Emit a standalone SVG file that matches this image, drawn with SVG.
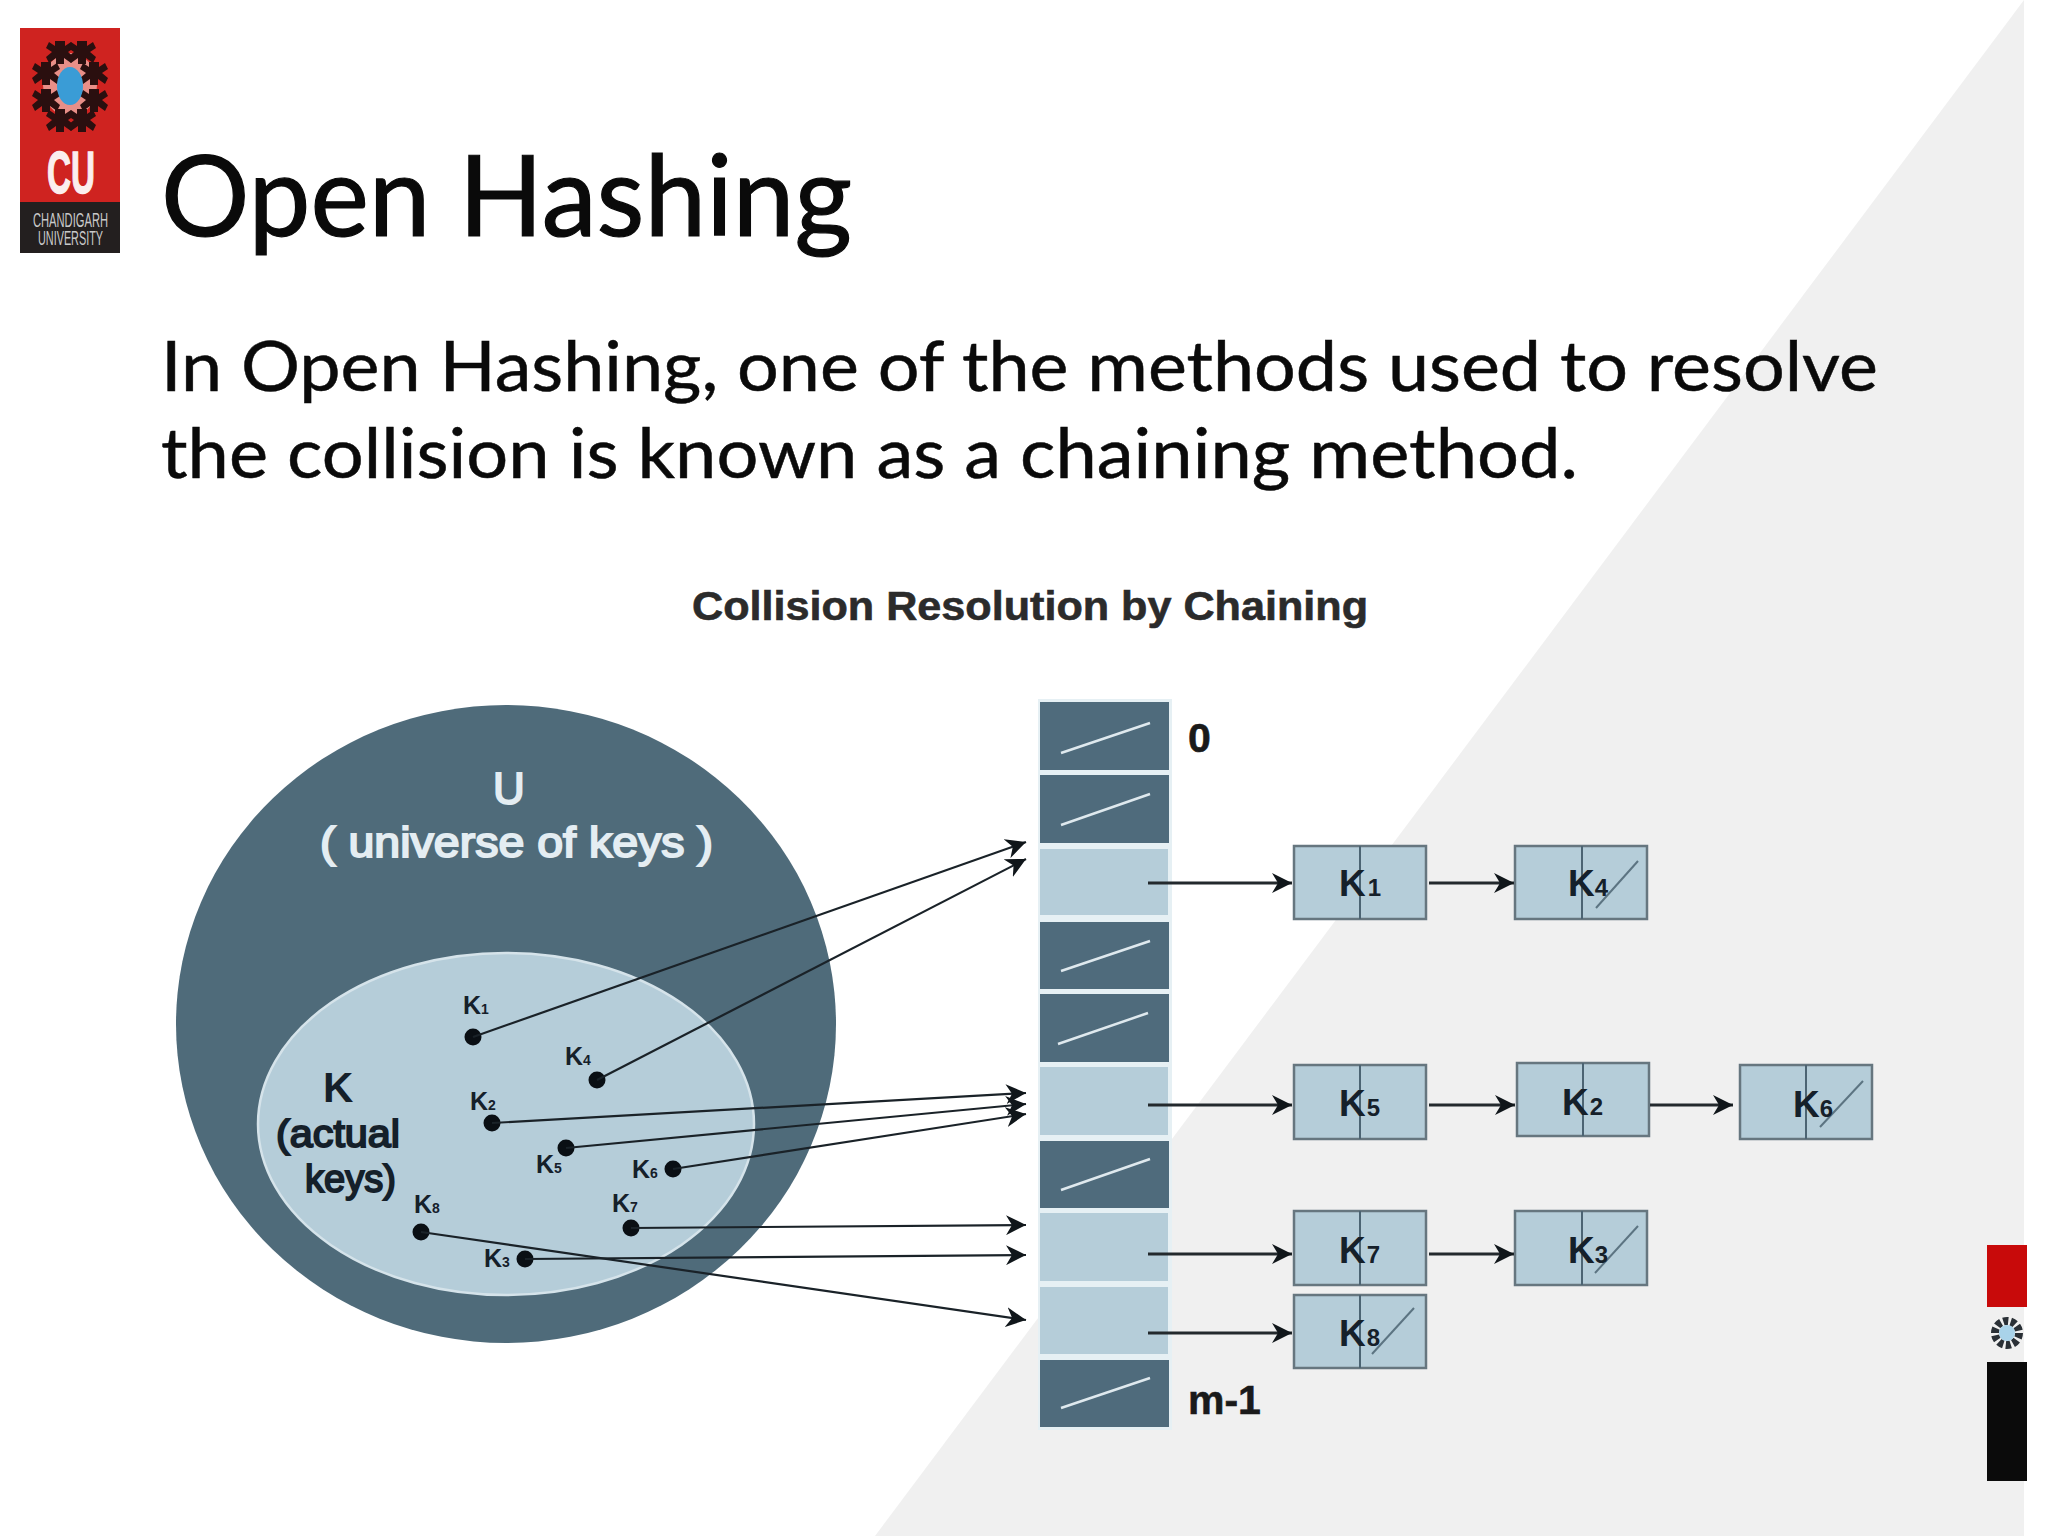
<svg xmlns="http://www.w3.org/2000/svg" xmlns:xlink="http://www.w3.org/1999/xlink" width="2048" height="1536" viewBox="0 0 2048 1536">
<style>
.slide{font-family:"Lato","Open Sans",sans-serif;fill:#0a0a0a;stroke:#0a0a0a}
.a{font-family:"Liberation Sans",Arial,sans-serif;font-weight:bold}
.m{font-family:"Liberation Sans",Arial,sans-serif;font-weight:normal;stroke-width:1.9}
.lite{fill:#e4edf2}
.m.lite{stroke:#e4edf2}
.dk{fill:#15202a}
.m.dk{stroke:#15202a}
.cd{fill:#4f6b7c}
.cl{fill:#b5cdd9}
.sl{stroke:#dfe9ee;stroke-width:2.5;fill:none}
.box{fill:#b5cdd9;stroke:#66767f;stroke-width:2.5}
.div{stroke:#4c6473;stroke-width:2;fill:none}
.cross{stroke:#5c7482;stroke-width:2;fill:none}
.k{font-size:37px}
.s{font-size:24px}
.kk{font-size:25px}
.ks{font-size:14px}
.pt{fill:#0a0f14}
.ln{stroke:#1a2228;stroke-width:2.2;fill:none;marker-end:url(#ah)}
.ln2{stroke:#23292d;stroke-width:3;fill:none;marker-end:url(#ah2)}
</style>
<defs>
<marker id="ah" markerUnits="userSpaceOnUse" markerWidth="22" markerHeight="20" refX="20" refY="10" orient="auto"><path d="M0 0L20 10L0 20L6 10Z" fill="#10161a"/></marker>
<marker id="ah2" markerUnits="userSpaceOnUse" markerWidth="22" markerHeight="20" refX="20" refY="10" orient="auto"><path d="M0 0L20 10L0 20L6 10Z" fill="#10161a"/></marker>
<g id="blob"><path d="M-5 -11h10v5l6 -4 3 6-6 4 6 5-3 6-7-5v6h-8v-6l-7 5-3-6 6-5-6-4 3-6 6 4Z" fill="#2a0f0f"/></g>
</defs>
<rect width="2048" height="1536" fill="#ffffff"/>
<polygon points="2024,0 2024,1536 875,1536" fill="#f0f0f0"/>

<g id="logo">
<rect x="20" y="28" width="100" height="175" fill="#cf2320"/>
<rect x="20" y="202" width="100" height="51" fill="#231f1f"/>
<ellipse cx="70" cy="85" rx="27" ry="32" fill="#e88f88"/>
<use xlink:href="#blob" x="60" y="52"/><use xlink:href="#blob" x="82" y="52"/>
<use xlink:href="#blob" x="46" y="73"/><use xlink:href="#blob" x="94" y="73"/>
<use xlink:href="#blob" x="46" y="100"/><use xlink:href="#blob" x="94" y="100"/>
<use xlink:href="#blob" x="60" y="120"/><use xlink:href="#blob" x="82" y="120"/>
<ellipse cx="70" cy="86" rx="13" ry="19" fill="#3a9cd6"/>
<text class="a" x="47" y="193" font-size="60" fill="#fbeeee" stroke="#fbeeee" stroke-width="1.5" textLength="48" lengthAdjust="spacingAndGlyphs">CU</text>
<text class="a" x="33" y="227" font-size="20" fill="#c9c9c9" textLength="75" lengthAdjust="spacingAndGlyphs" style="font-weight:normal">CHANDIGARH</text>
<text class="a" x="38" y="245" font-size="20" fill="#c9c9c9" textLength="65" lengthAdjust="spacingAndGlyphs" style="font-weight:normal">UNIVERSITY</text>
</g>

<g id="title"><text class="slide" x="161" y="236" font-size="112" stroke-width="1.2" textLength="691" lengthAdjust="spacingAndGlyphs">Open Hashing</text></g>
<g id="body">
<text class="slide" x="161" y="391" font-size="69" stroke-width="0.5" textLength="1717" lengthAdjust="spacingAndGlyphs">In Open Hashing, one of the methods used to resolve</text>
<text class="slide" x="161" y="478" font-size="69" stroke-width="0.5" textLength="1417" lengthAdjust="spacingAndGlyphs">the collision is known as a chaining method.</text>
</g>
<g id="heading"><text class="a" x="692" y="620" font-size="40" fill="#2b2b2b" stroke="#2b2b2b" stroke-width="0.6" textLength="676" lengthAdjust="spacingAndGlyphs">Collision Resolution by Chaining</text></g>

<g id="universe">
<ellipse cx="506" cy="1024" rx="330" ry="319" fill="#4f6b7a"/>
<text class="m lite" x="509" y="804" font-size="44" text-anchor="middle">U</text>
<text class="m lite" x="320" y="857" font-size="42" textLength="393" lengthAdjust="spacingAndGlyphs" xml:space="preserve">( universe of keys )</text>
</g>
<g id="actual-keys">
<ellipse cx="506" cy="1124" rx="248" ry="171" fill="#b5cdd9" stroke="#d5e3ea" stroke-width="2.5"/>
<text class="a dk" x="323" y="1102" font-size="42">K</text>
<text class="m dk" x="276" y="1147" font-size="39" textLength="124" lengthAdjust="spacingAndGlyphs">(actual</text>
<text class="m dk" x="305" y="1192" font-size="39" textLength="91" lengthAdjust="spacingAndGlyphs">keys)</text>
</g>

<g id="keys">
<g id="key-k1"><circle class="pt" cx="473" cy="1037" r="8.5"/><text class="a dk kk" x="463" y="1014">K<tspan class="ks">1</tspan></text></g>
<g id="key-k4"><circle class="pt" cx="597" cy="1080" r="8.5"/><text class="a dk kk" x="565" y="1065">K<tspan class="ks">4</tspan></text></g>
<g id="key-k2"><circle class="pt" cx="492" cy="1123" r="8.5"/><text class="a dk kk" x="470" y="1110">K<tspan class="ks">2</tspan></text></g>
<g id="key-k5"><circle class="pt" cx="566" cy="1148" r="8.5"/><text class="a dk kk" x="536" y="1173">K<tspan class="ks">5</tspan></text></g>
<g id="key-k6"><circle class="pt" cx="673" cy="1169" r="8.5"/><text class="a dk kk" x="632" y="1178">K<tspan class="ks">6</tspan></text></g>
<g id="key-k7"><circle class="pt" cx="631" cy="1228" r="8.5"/><text class="a dk kk" x="612" y="1212">K<tspan class="ks">7</tspan></text></g>
<g id="key-k8"><circle class="pt" cx="421" cy="1232" r="8.5"/><text class="a dk kk" x="414" y="1213">K<tspan class="ks">8</tspan></text></g>
<g id="key-k3"><circle class="pt" cx="525" cy="1259" r="8.5"/><text class="a dk kk" x="484" y="1267">K<tspan class="ks">3</tspan></text></g>
</g>

<g id="table">
<rect x="1038" y="699" width="134" height="731" fill="#e6f0f4"/>
<g id="slot-0"><rect class="cd" x="1040" y="702" width="129" height="68"/><path class="sl" d="M1061 753L1150 723"/></g>
<g id="slot-1"><rect class="cd" x="1040" y="775" width="129" height="68"/><path class="sl" d="M1061 825L1150 794"/></g>
<g id="slot-2"><rect class="cl" x="1040" y="849" width="128" height="66"/></g>
<g id="slot-3"><rect class="cd" x="1040" y="922" width="129" height="67"/><path class="sl" d="M1061 971L1150 941"/></g>
<g id="slot-4"><rect class="cd" x="1040" y="994" width="129" height="68"/><path class="sl" d="M1058 1044L1148 1013"/></g>
<g id="slot-5"><rect class="cl" x="1040" y="1067" width="128" height="68"/></g>
<g id="slot-6"><rect class="cd" x="1040" y="1141" width="129" height="67"/><path class="sl" d="M1061 1190L1150 1159"/></g>
<g id="slot-7"><rect class="cl" x="1040" y="1213" width="128" height="68"/></g>
<g id="slot-8"><rect class="cl" x="1040" y="1287" width="128" height="67"/></g>
<g id="slot-9"><rect class="cd" x="1040" y="1360" width="129" height="67"/><path class="sl" d="M1061 1408L1150 1378"/></g>
<text class="a" x="1188" y="752" font-size="41" fill="#1a1a1a" stroke="#1a1a1a" stroke-width="0.6">0</text>
<text class="a" x="1188" y="1414" font-size="41" fill="#1a1a1a" stroke="#1a1a1a" stroke-width="0.6">m-1</text>
</g>

<g id="node-k1"><rect class="box" x="1294" y="846" width="132" height="73"/><path class="div" d="M1360 846V919"/><text class="a dk k" x="1339" y="896">K<tspan class="s" dx="2">1</tspan></text></g>
<g id="node-k4"><rect class="box" x="1515" y="846" width="132" height="73"/><path class="div" d="M1582 846V919"/><path class="cross" d="M1596 908L1638 861"/><text class="a dk k" x="1568" y="896">K<tspan class="s" dx="0">4</tspan></text></g>
<g id="node-k5"><rect class="box" x="1294" y="1065" width="132" height="74"/><path class="div" d="M1360 1065V1139"/><text class="a dk k" x="1339" y="1116">K<tspan class="s" dx="1">5</tspan></text></g>
<g id="node-k2"><rect class="box" x="1517" y="1063" width="132" height="73"/><path class="div" d="M1583 1063V1136"/><text class="a dk k" x="1562" y="1115">K<tspan class="s" dx="1">2</tspan></text></g>
<g id="node-k6"><rect class="box" x="1740" y="1065" width="132" height="74"/><path class="div" d="M1806 1065V1139"/><path class="cross" d="M1820 1127L1863 1081"/><text class="a dk k" x="1793" y="1117">K<tspan class="s" dx="0">6</tspan></text></g>
<g id="node-k7"><rect class="box" x="1294" y="1211" width="132" height="74"/><path class="div" d="M1360 1211V1285"/><text class="a dk k" x="1339" y="1263">K<tspan class="s" dx="1">7</tspan></text></g>
<g id="node-k3"><rect class="box" x="1515" y="1211" width="132" height="74"/><path class="div" d="M1582 1211V1285"/><path class="cross" d="M1595 1273L1638 1226"/><text class="a dk k" x="1568" y="1263">K<tspan class="s" dx="0">3</tspan></text></g>
<g id="node-k8"><rect class="box" x="1294" y="1295" width="132" height="73"/><path class="div" d="M1360 1295V1368"/><path class="cross" d="M1372 1354L1414 1308"/><text class="a dk k" x="1339" y="1346">K<tspan class="s" dx="1">8</tspan></text></g>

<g id="connectors">
<path class="ln" d="M473 1037L1026 842"/>
<path class="ln" d="M597 1080L1026 859"/>
<path class="ln" d="M492 1123L1026 1093"/>
<path class="ln" d="M566 1148L1026 1104"/>
<path class="ln" d="M673 1169L1026 1114"/>
<path class="ln" d="M631 1228L1026 1225"/>
<path class="ln" d="M525 1259L1026 1255"/>
<path class="ln" d="M421 1232L1026 1320"/>
<path class="ln2" d="M1148 883H1292"/>
<path class="ln2" d="M1429 883H1514"/>
<path class="ln2" d="M1148 1105H1292"/>
<path class="ln2" d="M1429 1105H1515"/>
<path class="ln2" d="M1650 1105H1733"/>
<path class="ln2" d="M1148 1254H1292"/>
<path class="ln2" d="M1429 1254H1514"/>
<path class="ln2" d="M1148 1333H1292"/>
</g>

<g id="side-mark">
<rect x="1987" y="1245" width="40" height="62" fill="#c80a0a"/>
<circle cx="2007" cy="1333" r="12" fill="none" stroke="#2a3036" stroke-width="8" stroke-dasharray="5 2.5"/>
<circle cx="2007" cy="1333" r="8" fill="#a9d3ea"/>
<rect x="1987" y="1362" width="40" height="119" fill="#0b0b0b"/>
</g>
</svg>
